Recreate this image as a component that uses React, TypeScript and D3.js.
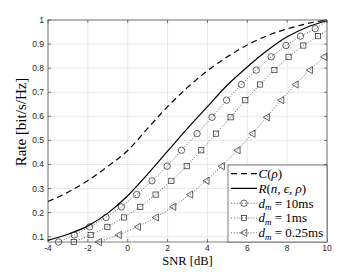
import * as d3 from 'd3'

// capacity C(rho) and normal approximation R(n, eps, rho), read at integer SNR
const snrGrid = [-4, -3, -2, -1, 0, 1, 2, 3, 4, 5, 6, 7, 8, 9, 10]
const capacity = [0.246, 0.285, 0.333, 0.392, 0.458, 0.55, 0.64, 0.72, 0.789, 0.847, 0.896, 0.935, 0.963, 0.985, 1.0]
const rateNormal = [0.085, 0.11, 0.145, 0.198, 0.27, 0.36, 0.455, 0.55, 0.64, 0.73, 0.805, 0.873, 0.93, 0.97, 0.997]

// marker series share the same rate levels
const rateLevels = [0.078, 0.107, 0.141, 0.18, 0.224, 0.275, 0.332, 0.393, 0.459, 0.528, 0.596, 0.667, 0.732, 0.792, 0.847, 0.894, 0.933, 0.964]
const snr10ms = [-3.47, -2.68, -1.91, -1.09, -0.32, 0.45, 1.22, 1.98, 2.7, 3.48, 4.23, 4.96, 5.7, 6.45, 7.2, 7.94, 8.67, 9.41]
const snr1ms = [-2.71, -1.86, -1.02, -0.19, 0.63, 1.4, 2.19, 2.96, 3.69, 4.43, 5.16, 5.9, 6.64, 7.36, 8.07, 8.81, 9.55]
const snr025ms = [-1.46, -0.46, 0.5, 1.4, 2.27, 3.12, 3.94, 4.71, 5.5, 6.25, 6.97, 7.69, 8.41, 9.13, 9.85]
const rateAt10dB = [0.995, 0.956, 0.86]

const xTicks = [-4, -2, 0, 2, 4, 6, 8, 10]
const yTicks = [0.1, 0.2, 0.3, 0.4, 0.5, 0.6, 0.7, 0.8, 0.9, 1]

const W = 362
const H = 272
const m = { left: 48, right: 327, top: 20, bottom: 242 }
const axisColor = '#262626'
const tickFont = '"Liberation Sans", Arial, sans-serif'
const serif = '"Liberation Serif", "Times New Roman", serif'

type Pt = [number, number]

function Marker({ kind, x, y }: { kind: string; x: number; y: number }) {
  const common = { fill: 'none', stroke: '#222', strokeWidth: 0.7 }
  if (kind === 'o') return <circle cx={x} cy={y} r={3.2} {...common} />
  if (kind === 's') return <rect x={x - 2.6} y={y - 2.6} width={5.2} height={5.2} {...common} />
  return <path d={`M${x - 3.4},${y}L${x + 2.8},${y - 3.6}L${x + 2.8},${y + 3.6}Z`} {...common} />
}

export default function App() {
  const x = d3.scaleLinear().domain([-4, 10]).range([m.left, m.right])
  const y = d3.scaleLinear().domain([0.078, 1]).range([m.bottom, m.top])

  const smooth = d3.line<Pt>().x(d => x(d[0])).y(d => y(d[1])).curve(d3.curveMonotoneX)
  const straight = d3.line<Pt>().x(d => x(d[0])).y(d => y(d[1]))

  const capPts: Pt[] = snrGrid.map((s, i) => [s, capacity[i]])
  const normPts: Pt[] = snrGrid.map((s, i) => [s, rateNormal[i]])

  const series = [
    { kind: 'o', snr: snr10ms, tail: rateAt10dB[0], label: '10ms' },
    { kind: 's', snr: snr1ms, tail: rateAt10dB[1], label: '1ms' },
    { kind: '<', snr: snr025ms, tail: rateAt10dB[2], label: '0.25ms' },
  ]

  const lg = { x0: 228, x1: m.right, y0: 165, y1: m.bottom }
  const rowY = (i: number) => 173.6 + i * 14.8
  const sx0 = 231
  const sx1 = 257
  const tx = 258.5

  return (
    <svg width={W} height={H} style={{ position: 'absolute', left: 0, top: 0, background: '#fff' }}>
      {/* grid */}
      {xTicks.map(t => (
        <line key={'gx' + t} x1={x(t)} x2={x(t)} y1={m.top} y2={m.bottom} stroke="#e2e2e2" strokeWidth={0.8} />
      ))}
      {yTicks.map(t => (
        <line key={'gy' + t} x1={m.left} x2={m.right} y1={y(t)} y2={y(t)} stroke="#e2e2e2" strokeWidth={0.8} />
      ))}

      {/* curves */}
      <path d={smooth(capPts) ?? ''} fill="none" stroke="#000" strokeWidth={1.2} strokeDasharray="6,4" />
      <path d={smooth(normPts) ?? ''} fill="none" stroke="#000" strokeWidth={1.2} />

      {series.map(s => {
        const pts: Pt[] = s.snr.map((v, i) => [v, rateLevels[i]])
        const linePts: Pt[] = [...pts, [10, s.tail]]
        return (
          <g key={s.kind}>
            <path d={straight(linePts) ?? ''} fill="none" stroke="#333" strokeWidth={0.8} strokeDasharray="1,1.8" />
            {pts.map((p, i) => (
              <Marker key={i} kind={s.kind} x={x(p[0])} y={y(p[1])} />
            ))}
          </g>
        )
      })}

      {/* axes box and ticks */}
      <rect x={m.left} y={m.top} width={m.right - m.left} height={m.bottom - m.top} fill="none" stroke={axisColor} strokeWidth={0.6} />
      {xTicks.map(t => (
        <g key={'tx' + t}>
          <line x1={x(t)} x2={x(t)} y1={m.bottom} y2={m.bottom - 3} stroke={axisColor} strokeWidth={0.6} />
          <line x1={x(t)} x2={x(t)} y1={m.top} y2={m.top + 3} stroke={axisColor} strokeWidth={0.6} />
          <text x={x(t)} y={251} fontSize={8.5} fontFamily={tickFont} fill={axisColor} textAnchor="middle">
            {String(t)}
          </text>
        </g>
      ))}
      {yTicks.map(t => (
        <g key={'ty' + t}>
          <line x1={m.left} x2={m.left + 3} y1={y(t)} y2={y(t)} stroke={axisColor} strokeWidth={0.6} />
          <line x1={m.right} x2={m.right - 3} y1={y(t)} y2={y(t)} stroke={axisColor} strokeWidth={0.6} />
          <text x={44} y={y(t) + 3} fontSize={8.5} fontFamily={tickFont} fill={axisColor} textAnchor="end">
            {String(t)}
          </text>
        </g>
      ))}

      {/* axis labels */}
      <text x={(m.left + m.right) / 2} y={265} fontSize={12.5} fontFamily={serif} fill="#000" textAnchor="middle">
        SNR [dB]
      </text>
      <text transform={`translate(26,122) rotate(-90)`} fontSize={15} fontFamily={serif} fill="#000" textAnchor="middle">
        Rate [bit/s/Hz]
      </text>

      {/* legend */}
      <rect x={lg.x0} y={lg.y0} width={lg.x1 - lg.x0} height={lg.y1 - lg.y0} fill="#fff" stroke={axisColor} strokeWidth={0.6} />
      <line x1={sx0} x2={sx1} y1={rowY(0)} y2={rowY(0)} stroke="#000" strokeWidth={1.2} strokeDasharray="6,4" />
      <text x={tx} y={rowY(0) + 4.3} fontSize={13} fontFamily={serif}>
        <tspan fontStyle="italic">C</tspan>(<tspan fontStyle="italic">ρ</tspan>)
      </text>
      <line x1={sx0} x2={sx1} y1={rowY(1)} y2={rowY(1)} stroke="#000" strokeWidth={1.2} />
      <text x={tx} y={rowY(1) + 4.3} fontSize={13} fontFamily={serif}>
        <tspan fontStyle="italic">R</tspan>(<tspan fontStyle="italic">n</tspan>, <tspan fontStyle="italic">ϵ</tspan>, <tspan fontStyle="italic">ρ</tspan>)
      </text>
      {series.map((s, i) => {
        const ry = rowY(i + 2)
        return (
          <g key={'lg' + s.kind}>
            <line x1={sx0} x2={sx1} y1={ry} y2={ry} stroke="#333" strokeWidth={0.8} strokeDasharray="1,1.8" />
            <Marker kind={s.kind} x={(sx0 + sx1) / 2} y={ry} />
            <text x={tx} y={ry + 4.3} fontSize={13} fontFamily={serif}>
              <tspan fontStyle="italic">d</tspan>
              <tspan fontStyle="italic" fontSize={9} dy={2.5}>m</tspan>
              <tspan dy={-2.5}>{' = ' + s.label}</tspan>
            </text>
          </g>
        )
      })}
    </svg>
  )
}
